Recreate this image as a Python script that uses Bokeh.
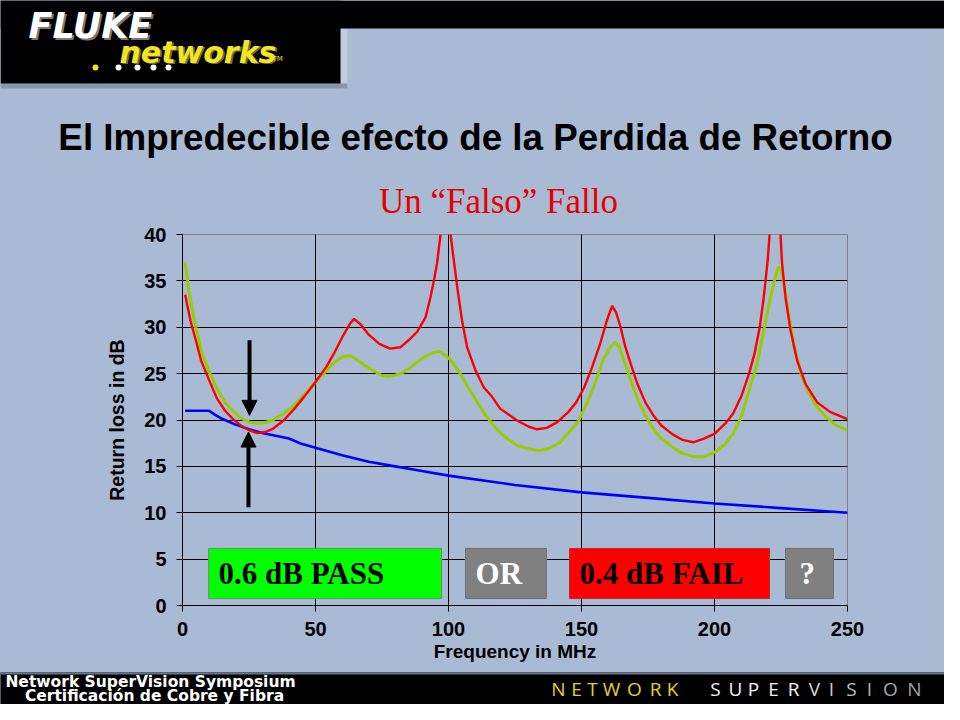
from bokeh.plotting import figure
from bokeh.layouts import column
from bokeh.models import Range1d, FixedTicker, Arrow, NormalHead
from bokeh.core.properties import value
from bokeh.embed import file_html
from bokeh.resources import INLINE

# ---------------- data ----------------
freq_limit = [1, 10, 12, 15, 20, 25, 30, 35, 40, 45, 50, 60, 70, 80, 90, 100,
              125, 150, 175, 200, 225, 250]
rl_limit = [21.0, 21.0, 20.6, 20.1, 19.5, 19.0, 18.6, 18.3, 18.0, 17.4, 17.0, 16.2,
            15.5, 15.0, 14.5, 14.0, 13.0, 12.2, 11.6, 11.0, 10.5, 10.0]

freq_red = [1, 3, 5, 7, 10, 13, 16, 19, 22, 25, 28, 31, 34, 38, 42, 46, 50, 54, 57, 60,
            63, 64.5, 67, 70, 74, 78, 82, 85, 88.2, 91.4, 93.2, 94.5, 95.7, 97.0, 98.2,
            99.6, 100.8, 102.0, 103.3, 105.1, 107, 110.2, 113.3, 116.4, 119.5, 125.8,
            130, 133.3, 137, 141, 145, 148, 151, 154, 157, 159.5, 161.5, 163, 164.7,
            166.5, 168.5, 171, 174, 177, 180, 184, 188, 192, 196, 200, 204, 207, 210,
            213, 215, 217, 218.5, 220, 220.7, 222, 223.6, 224.8, 225.4, 226.7, 228.6,
            231.1, 234.2, 238.6, 243.6, 250]
rl_red = [33.5, 30.7, 28.6, 26.4, 24.3, 22.3, 21.0, 20.1, 19.4, 18.9, 18.6, 18.7, 19.05,
          19.95, 21.2, 22.6, 24.1, 25.7, 27.2, 28.9, 30.4, 30.9, 30.3, 29.2, 28.2, 27.7,
          27.85, 28.6, 29.5, 31.1, 33.2, 35.0, 36.9, 40.0, 46.0, 46.0, 40.0, 37.2, 34.3,
          30.7, 27.85, 25.3, 23.5, 22.5, 21.2, 19.95, 19.3, 19.0, 19.15, 19.8, 20.85,
          21.9, 23.5, 25.7, 28.2, 30.7, 32.3, 31.6, 30.0, 27.85, 26.05, 23.9, 21.9, 20.5,
          19.4, 18.5, 17.85, 17.6, 18.0, 18.5, 19.6, 20.7, 22.5, 25.0, 27.1, 30.0, 33.2,
          37.2, 40.0, 47.0, 47.0, 40.0, 36.9, 33.2, 29.65, 26.4, 23.9, 21.9, 20.85, 20.1]

freq_green = [1, 2.2, 3, 5, 7, 10, 13, 16, 19, 22, 25, 28, 31, 34, 38, 42, 46, 50, 54, 57,
              60, 63, 65, 70, 75, 78, 82, 85, 88, 91, 94, 96.5, 99, 101, 104, 107, 110,
              114, 118, 122, 126, 130, 134, 138, 142, 146, 149, 152, 155, 158, 160.5,
              162.5, 164, 166, 168.5, 171, 174, 177, 180, 184, 188, 192, 196, 200, 204,
              207, 210, 213, 216, 218.5, 220.5, 222.5, 224, 225, 226.5, 228, 230, 232.5,
              235, 238, 242, 246, 250]
rl_green = [37.0, 34.3, 32.9, 30.0, 27.5, 25.2, 23.4, 21.9, 20.95, 20.2, 19.8, 19.65,
            19.7, 20.0, 20.7, 21.6, 22.8, 24.1, 25.3, 26.2, 26.8, 26.95, 26.6, 25.6, 24.8,
            24.7, 25.0, 25.5, 26.2, 26.8, 27.25, 27.4, 26.95, 26.4, 25.2, 23.7, 22.3, 20.5,
            19.05, 18.0, 17.25, 16.9, 16.7, 16.95, 17.6, 18.9, 19.95, 21.75, 23.9, 26.4,
            27.7, 28.4, 28.0, 26.4, 24.3, 22.3, 20.5, 19.05, 18.0, 17.1, 16.4, 16.05,
            16.05, 16.5, 17.4, 18.5, 20.3, 23.2, 26.05, 29.65, 32.5, 35.0, 36.5, 36.3,
            34.0, 31.1, 27.85, 25.0, 23.2, 21.6, 20.3, 19.4, 18.9]

x_ticks = [0, 50, 100, 150, 200, 250]
y_ticks = [0, 5, 10, 15, 20, 25, 30, 35, 40]

box_labels = ["0.6 dB PASS", "OR", "0.4 dB FAIL", "?"]

# ---------------- styling / layout constants ----------------
BG = "#A9BAD4"

box_left = [9.8, 106.4, 145.5, 226.7]
box_right = [97.4, 136.8, 220.7, 244.7]
box_bottom = [0.75] * 4
box_top = [6.15] * 4
box_fill = ["#00FF00", "#808080", "#FF0000", "#808080"]
box_line = ["#6E8F6E", "#707070", "#B03030", "#707070"]
box_text_color = ["black", "white", "black", "white"]
box_text_y = [3.4] * 4
box_pad = [10, 10, 10, 14]

# ---------------- header (slide top, 1:1 pixel coordinates) ----------------
head = figure(width=944, height=224, x_range=Range1d(0, 944), y_range=Range1d(224, 0),
              toolbar_location=None, output_backend="svg", min_border=0,
              x_axis_location=None, y_axis_location=None, frame_align=False)
head.grid.visible = False
head.outline_line_color = None
head.background_fill_color = BG
head.border_fill_color = BG

head.quad(left=[340, 0], right=[347, 347], top=[28, 83], bottom=[88, 88],
          fill_color=["#C2CCDD", "#8C96A8"], line_color=None)
head.quad(left=[0, 0], right=[944, 340], top=[0, 0], bottom=[28, 83],
          fill_color="black", line_color=None)

head.text(x=[30, 28], y=[27, 25], text=["FLUKE", "FLUKE"], text_font=value("DejaVu Sans"),
          text_font_style="bold italic", text_font_size="35px",
          text_color=["#7A7A7A", "white"], text_baseline="middle")
head.text(x=[121, 119], y=[53, 52], text=["networks", "networks"],
          text_font=value("DejaVu Sans"), text_font_style="bold italic",
          text_font_size="30px", text_color=["#6E6A40", "#F2E51B"],
          text_baseline="middle")
head.text(x=[272], y=[58], text=["TM"], text_font=value("DejaVu Sans"),
          text_font_size="7px", text_color="#F2E51B", text_baseline="middle")
head.scatter(x=[95, 118, 137, 153, 168], y=[67, 67, 67, 67, 67], size=6,
             fill_color=["#F2E51B", "white", "white", "white", "white"], line_color=None)

head.text(x=[475], y=[136.5], text=["El Impredecible efecto de la Perdida de Retorno"],
          text_font=value("Liberation Sans"), text_font_style="bold",
          text_font_size="36.8px", text_color="black", text_align="center",
          text_baseline="middle")
head.text(x=[498], y=[201], text=["Un “Falso” Fallo"],
          text_font=value("Liberation Serif"), text_font_size="35px",
          text_color="#E60000", text_align="center", text_baseline="middle")

# ---------------- chart ----------------
p = figure(width=944, height=448, x_range=Range1d(0, 250), y_range=Range1d(0, 40),
           toolbar_location=None, output_backend="svg",
           min_border_left=182, min_border_right=97, min_border_top=10,
           min_border_bottom=67, frame_align=False)
p.background_fill_color = BG
p.border_fill_color = BG
p.outline_line_color = "#808080"
p.outline_line_width = 1

p.xaxis.ticker = FixedTicker(ticks=x_ticks)
p.yaxis.ticker = FixedTicker(ticks=y_ticks)
p.xgrid.ticker = FixedTicker(ticks=x_ticks[1:-1])
p.ygrid.ticker = FixedTicker(ticks=y_ticks[1:-1])
p.grid.grid_line_color = "black"
p.grid.grid_line_width = 1

for ax in (p.xaxis[0], p.yaxis[0]):
    ax.axis_line_color = "black"
    ax.major_tick_line_color = "black"
    ax.major_tick_out = 6
    ax.major_tick_in = 0
    ax.minor_tick_out = 0
    ax.minor_tick_in = 0
    ax.major_label_text_font = "Liberation Sans"
    ax.major_label_text_font_style = "bold"
    ax.major_label_text_font_size = "20px"
    ax.major_label_text_color = "black"
    ax.axis_label_text_font = "Liberation Sans"
    ax.axis_label_text_font_style = "bold"
    ax.axis_label_text_color = "black"
p.xaxis.major_label_standoff = 10
p.yaxis.major_label_standoff = 10
p.yaxis.axis_label = "Return loss in dB"
p.yaxis.axis_label_text_font_size = "19.5px"
p.yaxis.axis_label_standoff = 13
p.xaxis.axis_label = "Frequency in MHz"
p.xaxis.axis_label_text_font_size = "19px"
p.xaxis.axis_label_standoff = 2

p.line(freq_limit, rl_limit, line_color="#0000FF", line_width=2.6)
p.line(freq_green, rl_green, line_color="#99CC00", line_width=3)
p.line(freq_red, rl_red, line_color="#FF0000", line_width=2.4)

p.add_layout(Arrow(end=NormalHead(size=15, fill_color="black", line_color="black"),
                   x_start=25.2, y_start=28.6, x_end=25.2, y_end=20.5,
                   line_width=4, line_color="black"))
p.add_layout(Arrow(end=NormalHead(size=15, fill_color="black", line_color="black"),
                   x_start=24.8, y_start=10.6, x_end=24.8, y_end=18.7,
                   line_width=4, line_color="black"))

p.quad(left=box_left, right=box_right, bottom=box_bottom, top=box_top,
       fill_color=box_fill, line_color=box_line, line_width=1)
p.text(x=box_left, y=box_text_y, text=box_labels, x_offset=box_pad,
       text_font=value("Liberation Serif"), text_font_style="bold",
       text_font_size="31px", text_color=box_text_color,
       text_align="left", text_baseline="middle")

# ---------------- footer ----------------
foot = figure(width=944, height=32, x_range=Range1d(0, 944), y_range=Range1d(704, 672),
              toolbar_location=None, output_backend="svg", min_border=0,
              x_axis_location=None, y_axis_location=None, frame_align=False)
foot.grid.visible = False
foot.outline_line_color = None
foot.background_fill_color = "black"
foot.border_fill_color = "black"
foot.quad(left=[0], right=[944], top=[672], bottom=[674], fill_color="#6A7586",
          line_color=None)

foot.text(x=[150, 154], y=[681.5, 695.5],
          text=["Network SuperVision Symposium", "Certificación de Cobre y Fibra"],
          text_font=value("DejaVu Sans"), text_font_style="bold",
          text_font_size="15.5px", text_color="white", text_align="center",
          text_baseline="middle")

brand_letters = list("NETWORKSUPERVISION")
brand_x = [558, 576, 592, 611, 634, 655, 672, 715, 735, 753, 773, 793, 814, 831, 851,
           869, 890, 914]
brand_colors = ["#E8D21E"] * 7 + ["#F4F4F4"] * 5 + ["#D8D8D8", "#CCCCCC", "#C0C0C0",
                                                     "#B4B4B4", "#A8A8A8", "#A0A0A0"]
foot.text(x=brand_x, y=[688] * len(brand_x), text=brand_letters,
          text_font=value("Open Sans"), text_font_size="19px", text_color=brand_colors,
          text_align="center", text_baseline="middle")

layout = column(head, p, foot, spacing=0, styles={"background-color": BG})
open("out.html", "w").write(file_html(layout, INLINE))
